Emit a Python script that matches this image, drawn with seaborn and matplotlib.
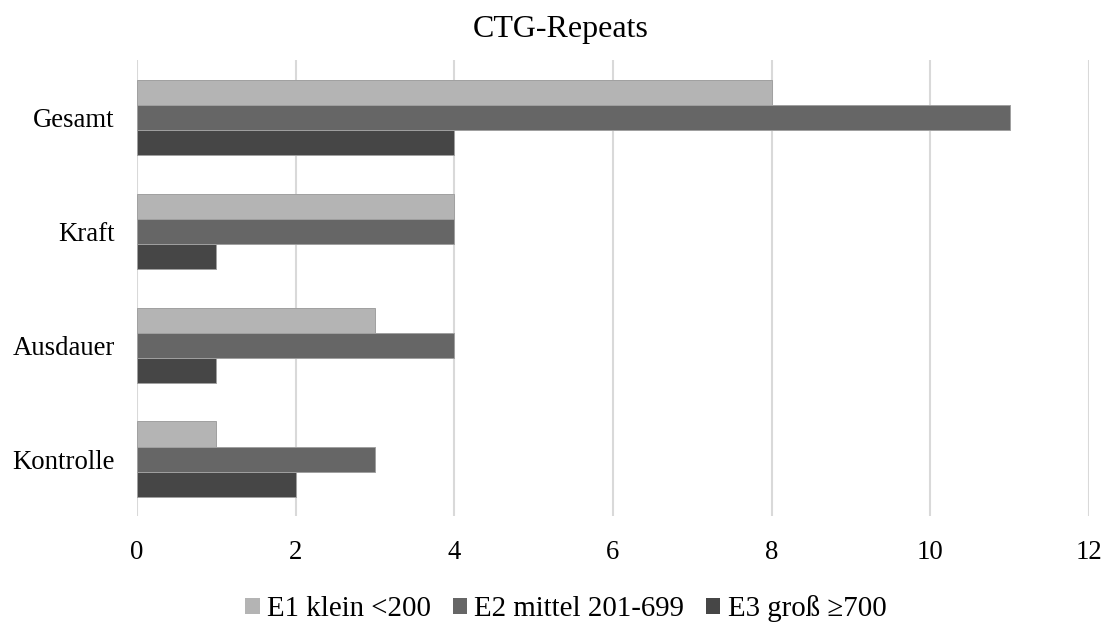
import matplotlib
matplotlib.use("Agg")
import matplotlib.pyplot as plt
import seaborn as sns
import pandas as pd

categories = ["Gesamt", "Kraft", "Ausdauer", "Kontrolle"]
series_names = ["E1 klein <200", "E2 mittel 201-699", "E3 groß ≥700"]
e1_values = [8, 4, 3, 1]
e2_values = [11, 4, 4, 3]
e3_values = [4, 1, 1, 2]
x_ticks = [0, 2, 4, 6, 8, 10, 12]
title = "CTG-Repeats"

colors = ["#b4b4b4", "#666666", "#464646"]

df = pd.DataFrame({
    "Gruppe": categories * 3,
    "Anzahl": e1_values + e2_values + e3_values,
    "Serie": [s for s in series_names for _ in categories],
})

sns.set_theme(style="white")
plt.rcParams["font.family"] = ["Liberation Serif", "DejaVu Serif"]
plt.rcParams["text.color"] = "black"

fig = plt.figure(figsize=(11.05, 6.34), dpi=100)
ax = fig.add_axes([0.124, 0.186, 0.8615, 0.719])

sns.barplot(data=df, x="Anzahl", y="Gruppe", hue="Serie", order=categories,
            hue_order=series_names, palette=colors, orient="h", width=0.66,
            gap=0, edgecolor="#a0a0a0", linewidth=0.7, ax=ax, legend=True,
            zorder=3)

ax.set_xlim(0, 12)
ax.set_ylim(3.5, -0.5)
ax.set_xticks(x_ticks)
ax.set_xticklabels([str(t) for t in x_ticks])
ax.xaxis.grid(True, color="#d9d9d9", linewidth=1.5, zorder=0)
ax.set_axisbelow(True)
for s in ax.spines.values():
    s.set_visible(False)
ax.tick_params(axis="both", length=0, labelsize=19.3, colors="black")
ax.tick_params(axis="x", pad=17)
ax.tick_params(axis="y", pad=16)
ax.set_xlabel("")
ax.set_ylabel("")

fig.text(0.507, 1 - 37 / 634, title, ha="center", va="baseline",
         fontsize=23, color="black")

handles, labels = ax.get_legend_handles_labels()
for h in handles:
    h.set_edgecolor("none")
ax.get_legend().remove()
fig.legend(handles, labels, loc="center", bbox_to_anchor=(0.512, 0.04), ncol=3,
           frameon=False, fontsize=20.8, handlelength=0.5, handleheight=0.5,
           handletextpad=0.25, columnspacing=0.75, labelcolor="black")

fig.savefig("out.png", dpi=100)
